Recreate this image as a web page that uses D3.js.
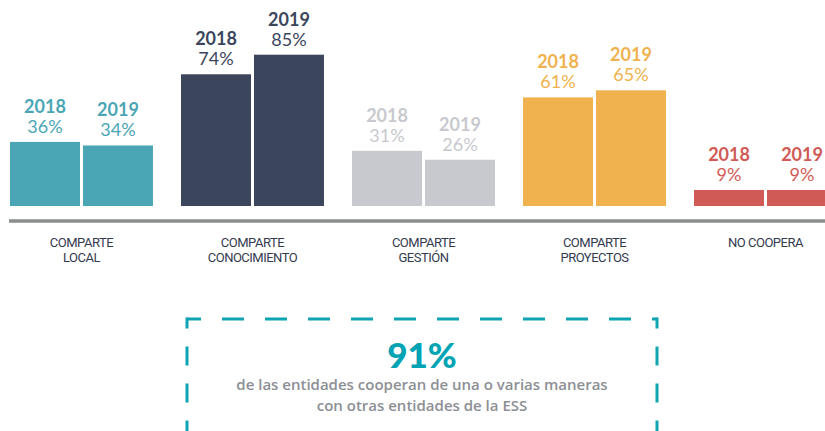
<!DOCTYPE html>
<html>
<head>
<meta charset="utf-8">
<script src="https://cdn.jsdelivr.net/npm/d3@7"></script>
<style>
  body { margin: 0; background: #fff; }
  svg { display: block; }
</style>
</head>
<body>
<svg id="chart"></svg>
<script>
// data
const groups = ["local", "conocimiento", "gestion", "proyectos", "nocoopera"];
const groupLabels = [
    ["COMPARTE", "LOCAL"],
    ["COMPARTE", "CONOCIMIENTO"],
    ["COMPARTE", "GESTIÓN"],
    ["COMPARTE", "PROYECTOS"],
    ["NO COOPERA"]
];
const years = ["2018", "2019"];
const values2018 = [36, 74, 31, 61, 9];
const values2019 = [34, 85, 26, 65, 9];
const groupColors = ["#4aa6b5", "#3b465c", "#c8c9ce", "#efb24e", "#d05a55"];

const calloutValue = "91%";
const calloutLines = [
    "de las entidades cooperan de una o varias maneras",
    "con otras entidades de la ESS"
];

const W = 825, H = 431;
const baseline = 206;

let svg = d3.select("#chart")
    .attr("width", W)
    .attr("height", H);

var x0 = d3.scaleBand()
    .domain(groups)
    .range([10, 837])
    .paddingInner(0.164)
    .paddingOuter(0);

var x1 = d3.scaleBand()
    .domain(years)
    .range([0, x0.bandwidth()])
    .paddingInner(0.041);

var y = d3.scaleLinear()
    .domain([0, 100])
    .range([baseline, 28]);

const rows = groups.map((g, i) => ({
    key: g,
    color: groupColors[i],
    label: groupLabels[i],
    vals: [{year: "2018", v: values2018[i]}, {year: "2019", v: values2019[i]}]
}));

let gGroup = svg.selectAll(".grp")
    .data(rows)
    .enter()
    .append("g")
    .attr("class", "grp")
    .attr("transform", d => `translate(${x0(d.key)},0)`);

gGroup.selectAll("rect")
    .data(d => d.vals.map(p => ({...p, color: d.color})))
    .enter()
    .append("rect")
    .attr("x", d => x1(d.year))
    .attr("y", d => y(d.v))
    .attr("width", x1.bandwidth())
    .attr("height", d => baseline - y(d.v))
    .attr("fill", d => d.color);

// labels above bars
let lab = gGroup.selectAll(".lab")
    .data(d => d.vals.map(p => ({...p, color: d.color})))
    .enter()
    .append("g")
    .attr("class", "lab")
    .attr("transform", d => `translate(${x1(d.year) + x1.bandwidth() / 2},${y(d.v)})`)
    .attr("fill", d => d.color)
    .attr("text-anchor", "middle")
    .style("font-family", "Lato, sans-serif")
    .style("font-size", "18px");

lab.append("text")
    .attr("y", -29)
    .style("font-weight", 700)
    .text(d => d.year);

lab.append("text")
    .attr("y", -9)
    .text(d => d.v + "%");

// axis line
svg.append("line")
    .attr("x1", 9)
    .attr("x2", W)
    .attr("y1", 221)
    .attr("y2", 221)
    .attr("stroke", "#8a8e8c")
    .attr("stroke-width", 3.5);

// category labels, one text per line
gGroup.selectAll(".cat")
    .data(d => d.label)
    .enter()
    .append("text")
    .attr("class", "cat")
    .attr("x", x0.bandwidth() / 2)
    .attr("y", (d, i) => 247 + i * 15)
    .attr("text-anchor", "middle")
    .attr("fill", "#343b4f")
    .style("font-family", "Roboto, sans-serif")
    .style("font-size", "13px")
    .style("letter-spacing", "-0.5px")
    .text(d => d);

// dashed callout box
const box = {left: 187, right: 657, top: 319, bottom: 470};
const tealBox = "#10a3b3";

svg.append("line")
    .attr("x1", box.left).attr("x2", box.right)
    .attr("y1", box.top).attr("y2", box.top)
    .attr("stroke", tealBox).attr("stroke-width", 3)
    .attr("stroke-dasharray", "22 21")
    .attr("stroke-dashoffset", 8);

[box.left, box.right].forEach(xx => {
    svg.append("line")
        .attr("x1", xx).attr("x2", xx)
        .attr("y1", box.top - 1.5).attr("y2", box.bottom)
        .attr("stroke", tealBox).attr("stroke-width", 3)
        .attr("stroke-dasharray", "19 18")
        .attr("stroke-dashoffset", 8);
});

const cx = (box.left + box.right) / 2;

svg.append("text")
    .attr("x", cx)
    .attr("y", 368)
    .attr("text-anchor", "middle")
    .attr("fill", "#00a3b4")
    .style("font-family", "Lato, sans-serif")
    .style("font-weight", 900)
    .style("font-size", "35px")
    .text(calloutValue);

svg.selectAll(".sub")
    .data(calloutLines)
    .enter()
    .append("text")
    .attr("class", "sub")
    .attr("x", cx)
    .attr("y", (d, i) => 390 + i * 21)
    .attr("text-anchor", "middle")
    .attr("fill", "#8c8f94")
    .style("font-family", "'Open Sans', sans-serif")
    .style("font-weight", 600)
    .style("font-size", "15px")
    .text(d => d);
</script>
</body>
</html>
